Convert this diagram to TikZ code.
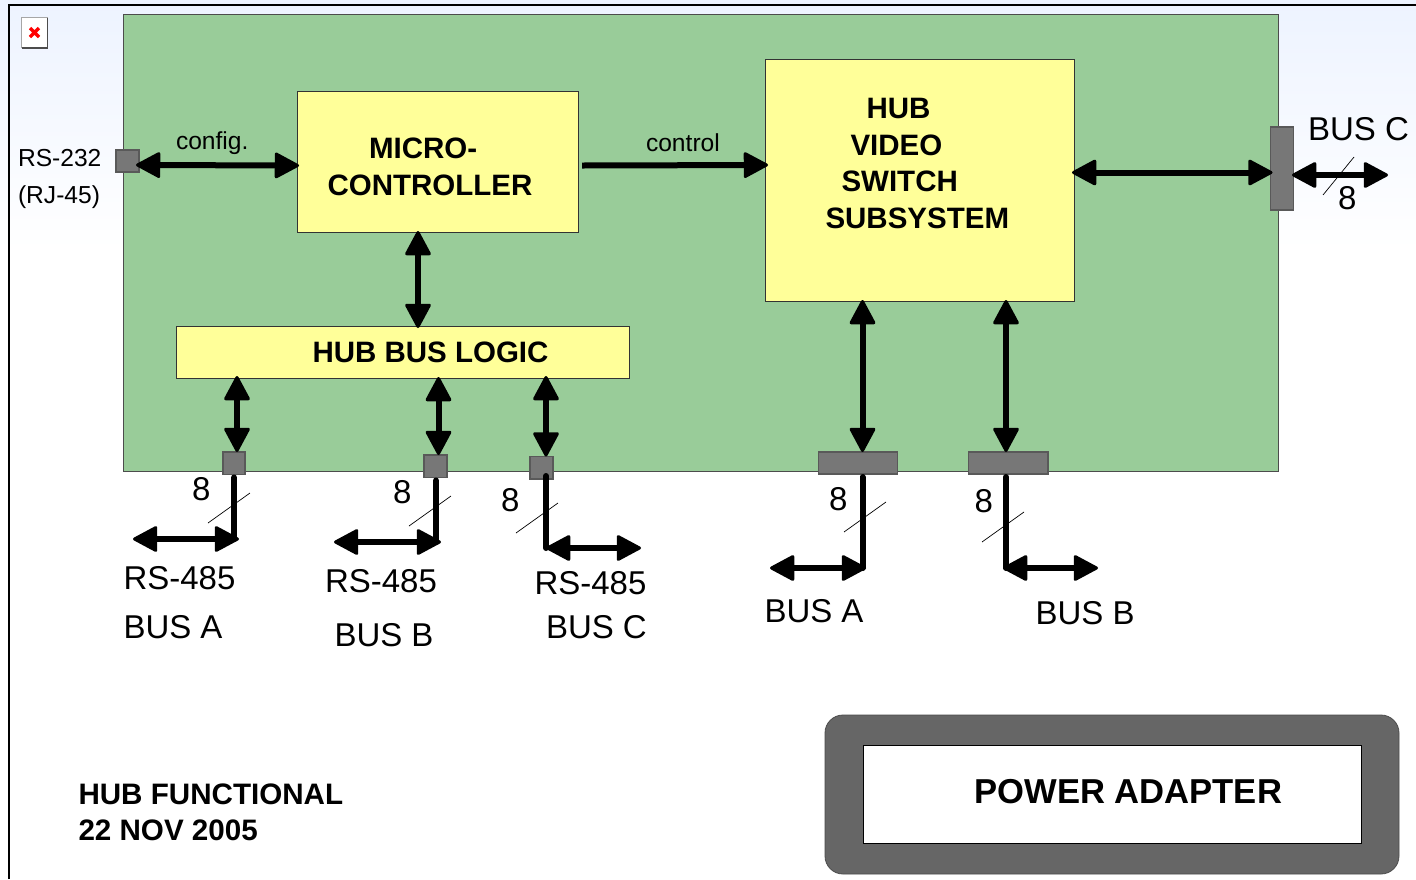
\documentclass[tikz,border=0pt]{standalone}
\usepackage{fontspec}
\setmainfont{Liberation Sans}
\usetikzlibrary{arrows.meta}
\tikzset{
  hd/.tip={Triangle[length=26pt,width=27pt,round,line width=3pt]},
  bi/.style={draw=black,line width=6pt,{hd}-{hd}},
  uni/.style={draw=black,line width=6pt,-{hd}},
  stem/.style={draw=black,line width=6pt,line cap=round},
  slash/.style={draw=black,line width=0.7pt},
  block/.style={draw=black!80,line width=0.9pt,fill=blockyellow,anchor=north west,inner sep=0pt,outer sep=0pt},
  port/.style={draw=black!65,line width=1.2pt,fill=portgrey,anchor=north west,inner sep=0pt,outer sep=0pt},
  txt/.style={anchor=base west,inner sep=0pt,outer sep=0pt,text=black},
  bigt/.style={txt,font=\fontsize{33}{36}\selectfont},
  smallt/.style={txt,font=\fontsize{24.6}{28}\selectfont},
  boldt/.style={txt,font=\fontsize{29.5}{34}\selectfont\bfseries},
}
\definecolor{boardgreen}{HTML}{99CC99}
\definecolor{blockyellow}{HTML}{FFFF99}
\definecolor{portgrey}{HTML}{777777}
\definecolor{adaptergrey}{HTML}{666666}
\definecolor{skyblue}{HTML}{EDF3FF}
\begin{document}
\begin{tikzpicture}[x=1pt,y=-1pt]
\useasboundingbox (0,0) rectangle (1416,879);
\clip (0,0) rectangle (1416,879);
\fill[white] (0,0) rectangle (1416,879);
\shade[top color=skyblue,bottom color=white] (0,0) rectangle (1416,250);
\draw[black,line width=2pt] (8.5,879) -- (8.5,5) -- (1416,5);
% broken image icon
\fill[white] (21.5,17.5) rectangle (47.5,48);
\draw[black!35,line width=1pt] (21.5,48) -- (21.5,17.5) -- (47.5,17.5);
\draw[black!70,line width=1.8pt] (21.5,48) -- (47.5,48) -- (47.5,17.5);
\draw[red,line width=3.2pt] (30,28) -- (39,37) (39,28) -- (30,37);
% board and blocks
\node[block,draw=black!70,fill=boardgreen,minimum width=1155pt,minimum height=457pt] (board) at (123,14) {};
\node[block,minimum width=281pt,minimum height=141pt] (mcu) at (297,91) {};
\node[block,minimum width=309pt,minimum height=242pt] (video) at (765,59) {};
\node[block,minimum width=453pt,minimum height=52.5pt] (logic) at (176,326) {};
% ports
\node[port,minimum width=23pt,minimum height=22pt] (prs) at (116,150) {};
\node[port,minimum width=23pt,minimum height=83pt] (pc) at (1270.5,127) {};
\node[port,minimum width=22pt,minimum height=22.5pt] (p1) at (223,452) {};
\node[port,minimum width=23pt,minimum height=22.5pt] (p2) at (424,455) {};
\node[port,minimum width=23pt,minimum height=22.5pt] (p3) at (530,456.5) {};
\node[port,minimum width=79pt,minimum height=22pt] (p4) at (818.5,452) {};
\node[port,minimum width=79.5pt,minimum height=22pt] (p5) at (968.5,452) {};
% adapter
\draw[draw=black!70,line width=0.8pt,fill=adaptergrey,rounded corners=18pt] (825,715) rectangle (1399,874);
\node[block,fill=white,draw=black,minimum width=498pt,minimum height=97.5pt] (adapter) at (863,745.5) {};
% internal connectors
\draw[bi] ([xshift=-3pt,yshift=-4pt]prs.east) -- ([xshift=2pt,yshift=-4pt]mcu.west);
\draw[uni] ([xshift=4pt,yshift=-4pt]mcu.east) -- ([xshift=3pt,yshift=15pt]video.west);
\draw[bi] ([xshift=-2pt,yshift=7.5pt]video.east) -- ([xshift=2pt,yshift=-4pt]pc.west);
\draw[bi] ([xshift=-19.5pt,yshift=1pt]mcu.south) -- ([xshift=-19.5pt,yshift=-2pt]mcu.south |- logic.north);
\draw[bi] (p1.north -| 237,0) -- (237,376);
\draw[bi] (p2.north -| 438.5,0) -- (438.5,377);
\draw[bi] (p3.north -| 546,0) -- (546,376);
\draw[bi] (p4.north -| 862.5,0) -- (862.5,300);
\draw[bi] (p5.north -| 1006,0) -- (1006,300);
% outer stems
\coordinate (c1) at (234,539);
\coordinate (c1l) at (133,539);
\coordinate (c1r) at (239,539);
\coordinate (c2) at (436,542);
\coordinate (c2l) at (334,542);
\coordinate (c2r) at (441,542);
\coordinate (c3) at (546,548);
\coordinate (c3l) at (546,548);
\coordinate (c3r) at (641,548);
\coordinate (c4) at (862.5,568);
\coordinate (c4l) at (770,568);
\coordinate (c4r) at (866,568);
\coordinate (c5) at (1006,568);
\coordinate (c5l) at (1003,568);
\coordinate (c5r) at (1098,568);
\coordinate (c6l) at (1292,175);
\coordinate (c6r) at (1388,175);
\draw[stem,shorten <=3pt] (p1.south -| c1) -- (c1);
\draw[stem,shorten <=3pt] (p2.south -| c2) -- (c2);
\draw[stem] (c3 |- 0,476) -- (c3);
\draw[stem,shorten <=3pt] (p4.south -| c4) -- (c4);
\draw[stem,shorten <=3pt] (p5.south -| c5) -- (c5);
\draw[bi] (c1l) -- (c1r);
\draw[bi] (c2l) -- (c2r);
\draw[bi] (c3l) -- (c3r);
\draw[bi] (c4l) -- (c4r);
\draw[bi] (c5l) -- (c5r);
\draw[bi] (c6l) -- (c6r);
% bus-width slashes
\draw[slash] (208,523) -- (250,493);
\draw[slash] (409,526) -- (451,496);
\draw[slash] (516,533) -- (558,503);
\draw[slash] (844,532) -- (886,502);
\draw[slash] (982,542) -- (1024,512);
\draw[slash] (1323,195) -- (1354,157);
% labels
\node[smallt] (tconfig) at (176,149) {config.};
\node[smallt] (tcontrol) at (646,151) {control};
\node[smallt] (trs) at (18,166) {RS-232};
\node[smallt] (trj) at (18,203) {(RJ-45)};
\node[boldt] (tm1) at (369,158) {MICRO-};
\node[boldt] (tm2) at (327.5,195) {CONTROLLER};
\node[boldt] (tv1) at (866.5,118) {HUB};
\node[boldt] (tv2) at (850.5,155) {VIDEO};
\node[boldt] (tv3) at (841.5,191) {SWITCH};
\node[boldt] (tv4) at (825.5,228) {SUBSYSTEM};
\node[boldt] (tl) at (312.5,362) {HUB BUS LOGIC};
\node[bigt] (tbc) at (1308,140) {BUS C};
\node[bigt] (n6) at (1338,209) {8};
\node[bigt] (n1) at (192,500) {8};
\node[bigt] (n2) at (393,503) {8};
\node[bigt] (n3) at (501,511) {8};
\node[bigt] (n4) at (829,510) {8};
\node[bigt] (n5) at (974.5,512) {8};
\node[bigt] (r1) at (123.5,589) {RS-485};
\node[bigt] (b1) at (123.5,638) {BUS A};
\node[bigt] (r2) at (325,592) {RS-485};
\node[bigt] (b2) at (334.5,646) {BUS B};
\node[bigt] (r3) at (534.5,594) {RS-485};
\node[bigt] (b3) at (546,638) {BUS C};
\node[bigt] (b4) at (764.5,622) {BUS A};
\node[bigt] (b5) at (1035.5,624) {BUS B};
\node[boldt,font=\fontsize{34.6}{38}\selectfont\bfseries] (tp) at (974.5,803) {POWER ADAPTER};
\node[boldt,font=\fontsize{29.6}{34}\selectfont\bfseries] (tf1) at (78.5,804) {HUB FUNCTIONAL};
\node[boldt,font=\fontsize{29.6}{34}\selectfont\bfseries] (tf2) at (78.5,840) {22 NOV 2005};
\end{tikzpicture}
\end{document}
